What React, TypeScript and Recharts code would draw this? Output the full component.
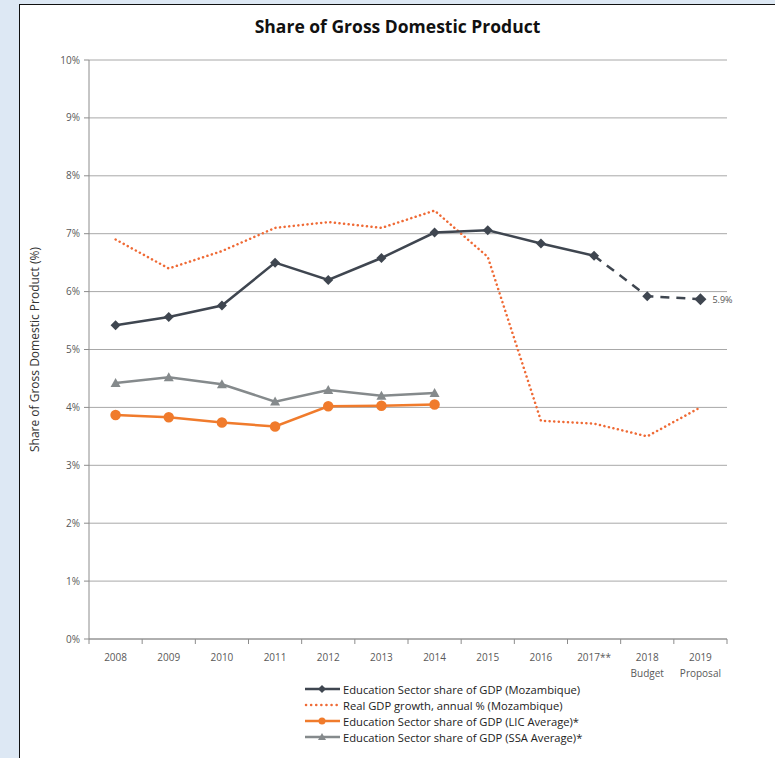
import { LineChart, Line, XAxis, YAxis, CartesianGrid, Legend, LabelList } from 'recharts';

const years = ['2008', '2009', '2010', '2011', '2012', '2013', '2014', '2015', '2016', '2017**', '2018 Budget', '2019 Proposal'];
const eduMozambique = [5.42, 5.56, 5.76, 6.5, 6.2, 6.58, 7.02, 7.06, 6.83, 6.62, null, null];
const eduMozambiquePlan = [null, null, null, null, null, null, null, null, null, 6.62, 5.92, 5.87];
const realGdpGrowth = [6.9, 6.4, 6.7, 7.1, 7.2, 7.1, 7.4, 6.6, 3.77, 3.72, 3.5, 4.0];
const eduLic = [3.87, 3.83, 3.74, 3.67, 4.02, 4.03, 4.05, null, null, null, null, null];
const eduSsa = [4.42, 4.52, 4.4, 4.1, 4.3, 4.2, 4.25, null, null, null, null, null];
const yTicks = [0, 1, 2, 3, 4, 5, 6, 7, 8, 9, 10];

const data = years.map((year, i) => ({
  year,
  moz: eduMozambique[i],
  mozPlan: eduMozambiquePlan[i],
  gdp: realGdpGrowth[i],
  lic: eduLic[i],
  ssa: eduSsa[i],
}));

const FONT = '"Open Sans", "Noto Sans", sans-serif';
const DARK = '#3f4650';
const GDP = '#ef6a35';
const LIC = '#f07b2c';
const SSA = '#858a8c';
const BAND = 638 / 12;

const diamond = (size: number) => (props: any) => {
  const { cx, cy, index } = props;
  if (cx == null || cy == null) return <g key={`d-${index}`} />;
  return (
    <path
      key={`d-${index}`}
      d={`M${cx},${cy - size} L${cx + size},${cy} L${cx},${cy + size} L${cx - size},${cy} Z`}
      fill={DARK}
    />
  );
};

const planDiamond = (props: any) => {
  const { index } = props;
  if (index === 9) return <g key={`p-${index}`} />;
  return diamond(index === 11 ? 6 : 5)(props);
};

const triangle = (props: any) => {
  const { cx, cy, index } = props;
  if (cx == null || cy == null) return <g key={`t-${index}`} />;
  return <path key={`t-${index}`} d={`M${cx},${cy - 5} L${cx + 5},${cy + 4} L${cx - 5},${cy + 4} Z`} fill={SSA} />;
};

const XTick = (props: any) => {
  const { x, y, payload, index } = props;
  const axisY = y - 8;
  const [first, second] = String(payload.value).split(' ');
  return (
    <g>
      <line x1={x - BAND / 2} x2={x - BAND / 2} y1={axisY} y2={axisY + 5} stroke="#8c8c8c" />
      {index === years.length - 1 && (
        <line x1={x + BAND / 2} x2={x + BAND / 2} y1={axisY} y2={axisY + 5} stroke="#8c8c8c" />
      )}
      <text x={x} y={y + 14} textAnchor="middle" fontSize={10} fill="#595959" fontFamily={FONT}>
        {first}
      </text>
      {second && (
        <text x={x} y={y + 30} textAnchor="middle" fontSize={10} fill="#595959" fontFamily={FONT}>
          {second}
        </text>
      )}
    </g>
  );
};

const legendRows = [
  { label: 'Education Sector share of GDP (Mozambique)', color: DARK, kind: 'diamond' },
  { label: 'Real GDP growth, annual % (Mozambique)', color: GDP, kind: 'dotted' },
  { label: 'Education Sector share of GDP (LIC Average)*', color: LIC, kind: 'circle' },
  { label: 'Education Sector share of GDP (SSA Average)*', color: SSA, kind: 'triangle' },
];

const LegendContent = () => (
  <div style={{ fontFamily: FONT, fontSize: 11.2, color: '#222' }}>
    {legendRows.map((row) => (
      <div key={row.label} style={{ display: 'flex', alignItems: 'center', height: 16 }}>
        <svg width={38} height={12} style={{ marginRight: 2 }}>
          {row.kind === 'dotted' ? (
            <line x1={3} x2={36} y1={6} y2={6} stroke={row.color} strokeWidth={2.5} strokeDasharray="0.1 5" strokeLinecap="round" />
          ) : (
            <line x1={2} x2={37} y1={6} y2={6} stroke={row.color} strokeWidth={2.5} />
          )}
          {row.kind === 'diamond' && <path d="M19,2 L23,6 L19,10 L15,6 Z" fill={row.color} />}
          {row.kind === 'circle' && <circle cx={19} cy={6} r={3.5} fill={row.color} />}
          {row.kind === 'triangle' && <path d="M19,2 L23,9 L15,9 Z" fill={row.color} />}
        </svg>
        <span>{row.label}</span>
      </div>
    ))}
  </div>
);

const App = () => {
  return (
    <div style={{ position: 'absolute', left: 0, top: 0, width: 775, height: 758, background: '#dde8f4', overflow: 'hidden' }}>
      <div
        style={{
          position: 'absolute',
          left: 19,
          top: 4,
          width: 760,
          height: 760,
          background: '#fff',
          borderLeft: '1.5px solid #111',
          borderTop: '1.5px solid #111',
        }}
      />
      <div
        style={{
          position: 'absolute',
          left: 0,
          top: 14,
          width: 795,
          textAlign: 'center',
          fontFamily: FONT,
          fontWeight: 700,
          fontSize: 17.5,
          color: '#111',
        }}
      >
        Share of Gross Domestic Product
      </div>
      <div style={{ position: 'absolute', left: 0, top: 0 }}>
        <LineChart width={775} height={758} data={data} margin={{ top: 60, right: 48, left: 0, bottom: 89 }}>
          <CartesianGrid vertical={false} stroke="#a8a8a8" />
          <XAxis
            dataKey="year"
            height={30}
            interval={0}
            padding={{ left: BAND / 2, right: BAND / 2 }}
            tickLine={false}
            tickSize={6}
            tickMargin={2}
            tick={<XTick />}
            axisLine={{ stroke: '#8c8c8c' }}
          />
          <YAxis
            width={89}
            domain={[0, 10]}
            ticks={yTicks}
            tickFormatter={(v) => `${v}%`}
            tickSize={5}
            tickMargin={4}
            tick={{ fontSize: 10, fill: '#595959', fontFamily: FONT }}
            tickLine={{ stroke: '#8c8c8c' }}
            axisLine={{ stroke: '#8c8c8c' }}
            label={{
              value: 'Share of Gross Domestic Product (%)',
              angle: -90,
              position: 'center',
              dx: -10,
              style: { fontSize: 12, fill: '#333', fontFamily: FONT },
            }}
          />
          <Line
            dataKey="gdp"
            stroke={GDP}
            strokeWidth={2.5}
            strokeDasharray="0.1 4.5"
            strokeLinecap="round"
            dot={false}
            isAnimationActive={false}
          />
          <Line dataKey="ssa" stroke={SSA} strokeWidth={2.5} dot={triangle} isAnimationActive={false} />
          <Line dataKey="lic" stroke={LIC} strokeWidth={2.5} dot={{ r: 4, fill: LIC, stroke: LIC }} isAnimationActive={false} />
          <Line dataKey="moz" stroke={DARK} strokeWidth={2.5} dot={diamond(5)} isAnimationActive={false} />
          <Line
            dataKey="mozPlan"
            stroke={DARK}
            strokeWidth={2.5}
            strokeDasharray="9 7"
            dot={planDiamond}
            legendType="none"
            isAnimationActive={false}
          >
            <LabelList
              dataKey="mozPlan"
              content={(props: any) =>
                props.index === years.length - 1 ? (
                  <text x={props.x + 12} y={props.y + 4} fontSize={9} fill="#555" fontFamily={FONT}>
                    {`${Number(props.value).toFixed(1)}%`}
                  </text>
                ) : null
              }
            />
          </Line>
          <Legend
            verticalAlign="middle"
            align="center"
            content={<LegendContent />}
            wrapperStyle={{ left: 303, top: 681, width: 340 }}
          />
        </LineChart>
      </div>
    </div>
  );
};

export default App;
